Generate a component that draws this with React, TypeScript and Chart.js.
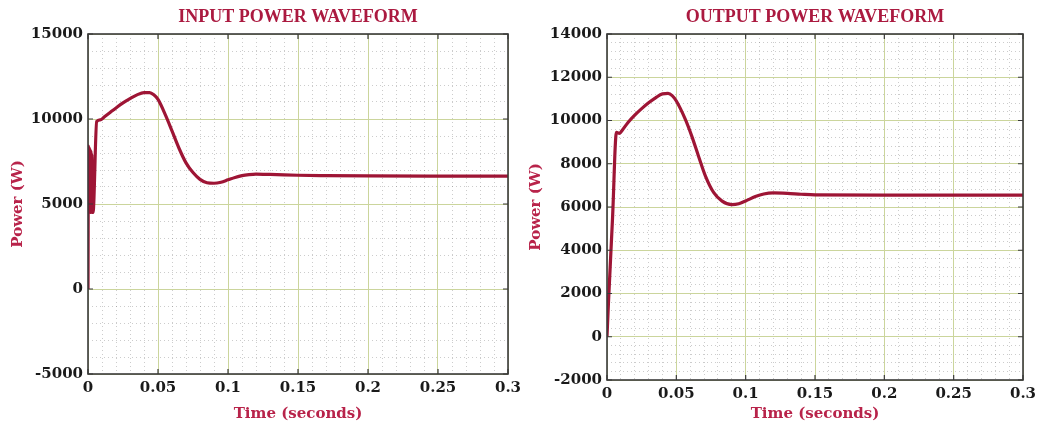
import React, { useEffect, useRef } from 'react';
import { Chart, registerables } from 'chart.js';

Chart.register(...registerables);

// ---------- data ----------
const inputTime = [
  0, 0.0003, 0.0006, 0.0009, 0.0012, 0.0015, 0.0018, 0.0021, 0.0024, 0.0027, 0.003, 0.0033, 0.0036,
  0.0062, 0.0088, 0.012, 0.016, 0.02, 0.025, 0.03, 0.035, 0.04, 0.044, 0.047, 0.05,
  0.0555, 0.06, 0.065, 0.07, 0.075, 0.08, 0.085, 0.09, 0.095, 0.1, 0.105, 0.11, 0.115,
  0.12, 0.13, 0.14, 0.15, 0.17, 0.2, 0.25, 0.3,
];
const inputPower = [
  0, 8400, 4700, 8300, 4600, 8200, 4500, 8100, 4600, 7900, 4500, 7000, 4500,
  9850, 9950, 10150, 10400, 10650, 10950, 11200, 11420, 11550, 11550, 11420, 11150,
  10200, 9300, 8280, 7420, 6850, 6450, 6250, 6220, 6280, 6420, 6560, 6670, 6730,
  6760, 6740, 6710, 6690, 6670, 6650, 6640, 6640,
];

const outputTime = [
  0, 0.001, 0.004, 0.0068, 0.009, 0.011, 0.015, 0.02, 0.025, 0.03, 0.035, 0.04,
  0.044, 0.047, 0.05, 0.0565, 0.061, 0.066, 0.071, 0.077, 0.083, 0.09, 0.095, 0.1,
  0.107, 0.113, 0.12, 0.13, 0.14, 0.15, 0.2, 0.3,
];
const outputPower = [
  0, 1500, 5500, 9450, 9400, 9550, 9900, 10250, 10550, 10820, 11050, 11230,
  11250, 11150, 10900, 10050, 9300, 8350, 7430, 6660, 6270, 6110, 6150, 6280,
  6480, 6600, 6650, 6630, 6590, 6560, 6550, 6550,
];

const xTickLabels = ['0', '0.05', '0.1', '0.15', '0.2', '0.25', '0.3'];
const inputYTickLabels = ['-5000', '0', '5000', '10000', '15000'];
const outputYTickLabels = ['-2000', '0', '2000', '4000', '6000', '8000', '10000', '12000', '14000'];

const inputTitle = 'INPUT POWER WAVEFORM';
const outputTitle = 'OUTPUT POWER WAVEFORM';
const xAxisTitle = 'Time (seconds)';
const yAxisTitle = 'Power (W)';

// ---------- styles ----------
const TITLE_COLOR = '#ab1a40';
const AXIS_TITLE_COLOR = '#b8234a';
const LINE_COLOR = '#9e1535';
const MAJOR_GRID = '#cbd59c';
const MINOR_GRID = 'rgba(110,110,110,0.35)';

const framePlugin = {
  id: 'frameBox',
  afterDatasetsDraw(chart: any) {
    const { ctx, chartArea: a, scales } = chart;
    ctx.save();
    ctx.strokeStyle = '#3a3a3a';
    ctx.lineWidth = 1.2;
    ctx.beginPath();
    scales.x.ticks.forEach((t: any) => {
      const px = scales.x.getPixelForValue(t.value);
      ctx.moveTo(px, a.bottom);
      ctx.lineTo(px, a.bottom - 5);
      ctx.moveTo(px, a.top);
      ctx.lineTo(px, a.top + 5);
    });
    scales.y.ticks.forEach((t: any) => {
      const py = scales.y.getPixelForValue(t.value);
      ctx.moveTo(a.left, py);
      ctx.lineTo(a.left + 5, py);
      ctx.moveTo(a.right, py);
      ctx.lineTo(a.right - 5, py);
    });
    ctx.stroke();
    ctx.lineWidth = 1.6;
    ctx.strokeRect(a.left, a.top, a.right - a.left, a.bottom - a.top);
    ctx.restore();
  },
};

type Props = {
  width: number;
  height: number;
  title: string;
  times: number[];
  values: number[];
  yMin: number;
  yMax: number;
  yStep: number;
  yMinorStep: number;
  yTickLabels: string[];
  pad: { left: number; right: number; top: number; bottom: number };
  yWidth: number;
  xHeight: number;
  titleBottomPad: number;
};

function PowerChart(p: Props) {
  const ref = useRef<HTMLCanvasElement>(null);
  useEffect(() => {
    if (!ref.current) return;
    const data = p.times.map((t, i) => ({ x: t, y: p.values[i] }));
    const tickFont = { family: 'DejaVu Serif', weight: 'bold' as const, size: 15 };
    const chart = new Chart(ref.current, {
      type: 'line',
      data: {
        datasets: [
          {
            data,
            borderColor: LINE_COLOR,
            borderWidth: 3.2,
            pointRadius: 0,
            cubicInterpolationMode: 'monotone',
            fill: false,
          },
        ],
      },
      options: {
        responsive: false,
        animation: false,
        devicePixelRatio: 1,
        layout: { padding: p.pad },
        plugins: {
          legend: { display: false },
          tooltip: { enabled: false },
          title: {
            display: true,
            text: p.title,
            fullSize: false,
            color: TITLE_COLOR,
            font: { family: 'Liberation Serif', weight: 'bold', size: 18 },
            padding: { top: 7, bottom: p.titleBottomPad },
          },
        },
        scales: {
          xMinor: {
            type: 'linear',
            position: 'bottom',
            min: 0,
            max: 0.3,
            ticks: { display: false, stepSize: 0.01, autoSkip: false },
            grid: {
              drawTicks: false,
              color: (c: any) => (c.index % 5 === 0 ? 'rgba(0,0,0,0)' : MINOR_GRID),
              lineWidth: 1,
            },
            border: { display: false, dash: [1, 3] },
            afterFit: (s: any) => {
              s.height = 0;
              s.paddingLeft = 0;
              s.paddingRight = 0;
            },
          },
          yMinor: {
            type: 'linear',
            position: 'left',
            min: p.yMin,
            max: p.yMax,
            ticks: { display: false, stepSize: p.yMinorStep, autoSkip: false },
            grid: {
              drawTicks: false,
              color: (c: any) => (c.index % 5 === 0 ? 'rgba(0,0,0,0)' : MINOR_GRID),
              lineWidth: 1,
            },
            border: { display: false, dash: [1, 3] },
            afterFit: (s: any) => {
              s.width = 0;
              s.paddingTop = 0;
              s.paddingBottom = 0;
            },
          },
          x: {
            type: 'linear',
            position: 'bottom',
            min: 0,
            max: 0.3,
            ticks: {
              stepSize: 0.05,
              autoSkip: false,
              maxRotation: 0,
              padding: 5,
              color: '#1a1a1a',
              font: tickFont,
              callback: (_v: any, i: number) => xTickLabels[i],
            },
            grid: { drawTicks: false, color: MAJOR_GRID, lineWidth: 1 },
            border: { display: false },
            title: {
              display: true,
              text: xAxisTitle,
              color: AXIS_TITLE_COLOR,
              font: { family: 'DejaVu Serif', weight: 'bold', size: 15 },
              padding: 0,
            },
            afterFit: (s: any) => {
              s.height = p.xHeight;
              s.paddingLeft = 0;
              s.paddingRight = 0;
            },
          },
          y: {
            type: 'linear',
            position: 'left',
            min: p.yMin,
            max: p.yMax,
            ticks: {
              stepSize: p.yStep,
              autoSkip: false,
              padding: 5,
              color: '#1a1a1a',
              font: tickFont,
              callback: (_v: any, i: number) => p.yTickLabels[i],
            },
            grid: { drawTicks: false, color: MAJOR_GRID, lineWidth: 1 },
            border: { display: false },
            title: {
              display: true,
              text: yAxisTitle,
              color: AXIS_TITLE_COLOR,
              font: { family: 'DejaVu Serif', weight: 'bold', size: 15 },
              padding: 0,
            },
            afterFit: (s: any) => {
              s.width = p.yWidth;
            },
          },
        },
      },
      plugins: [framePlugin],
    } as any);
    return () => chart.destroy();
  }, []);
  return (
    <canvas
      ref={ref}
      width={p.width}
      height={p.height}
      style={{ display: 'block', width: p.width, height: p.height }}
    />
  );
}

export default function App() {
  return (
    <div
      style={{
        position: 'absolute',
        left: 0,
        top: 0,
        width: 1037,
        height: 431,
        background: '#ffffff',
      }}
    >
      <div style={{ position: 'absolute', left: 0, top: 0 }}>
        <PowerChart
          width={520}
          height={431}
          title={inputTitle}
          times={inputTime}
          values={inputPower}
          yMin={-5000}
          yMax={15000}
          yStep={5000}
          yMinorStep={1000}
          yTickLabels={inputYTickLabels}
          pad={{ left: 9, right: 12, top: 0, bottom: 8 }}
          yWidth={79}
          xHeight={49}
          titleBottomPad={5.4}
        />
      </div>
      <div style={{ position: 'absolute', left: 520, top: 0 }}>
        <PowerChart
          width={517}
          height={431}
          title={outputTitle}
          times={outputTime}
          values={outputPower}
          yMin={-2000}
          yMax={14000}
          yStep={2000}
          yMinorStep={400}
          yTickLabels={outputYTickLabels}
          pad={{ left: 7, right: 14, top: 0, bottom: 8 }}
          yWidth={80}
          xHeight={43}
          titleBottomPad={5.4}
        />
      </div>
    </div>
  );
}
